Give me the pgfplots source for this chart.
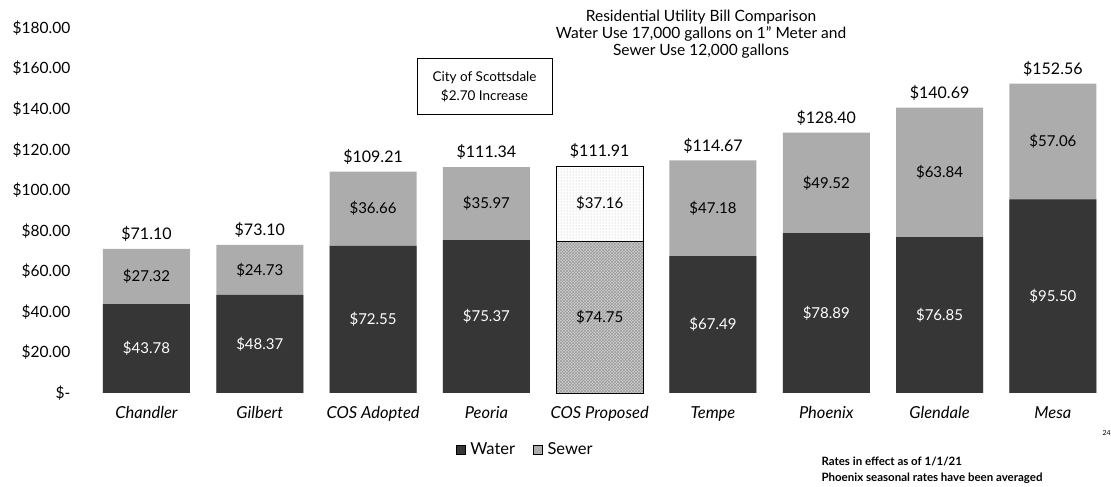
\documentclass[border=0pt]{standalone}
\usepackage{fontspec}
\setmainfont{Lato}
\usepackage{pgfplots}
\usepackage{pgfplotstable}
\pgfplotsset{compat=1.18}
\usetikzlibrary{patterns}
\definecolor{water}{RGB}{54,54,54}
\definecolor{sewer}{RGB}{172,172,172}
\pgfkeys{/pgf/number format/assume math mode=true}

\pgfplotstableread{
x water sewer total
0 43.78 27.32 71.10
1 48.37 24.73 73.10
2 72.55 36.66 109.21
3 75.37 35.97 111.34
4 74.75 37.16 111.91
5 67.49 47.18 114.67
6 78.89 49.52 128.40
7 76.85 63.84 140.69
8 95.50 57.06 152.56
}\data

\begin{document}
\begin{tikzpicture}[x=1pt,y=1pt]
\useasboundingbox (0,0) rectangle (1111,487);
\begin{axis}[
  at={(89.85pt,94pt)}, anchor=south west,
  scale only axis, width=1019.8pt, height=365pt,
  xmin=-0.5, xmax=8.5, ymin=0, ymax=180,
  axis line style={draw=none}, tick style={draw=none},
  clip=false,
  ytick={0,20,...,180},
  yticklabels={\$-\hspace{14pt},\$20.00,\$40.00,\$60.00,\$80.00,\$100.00,\$120.00,\$140.00,\$160.00,\$180.00},
  yticklabel style={font=\fontsize{15.5}{18}\selectfont, xshift=-16pt},
  xtick={0,...,8},
  xticklabels={Chandler,Gilbert,COS Adopted,Peoria,COS Proposed,Tempe,Phoenix,Glendale,Mesa},
  xticklabel style={font=\fontsize{16.5}{19}\selectfont\itshape, yshift=-10pt},
  legend columns=2,
  legend style={at={(rel axis cs:0.427,-0.153)}, anchor=center, draw=none, fill=none,
    font=\fontsize{16.5}{19}\selectfont, /tikz/every even column/.append style={column sep=16pt}},
  legend image code/.code={\fill[#1] (0pt,-5pt) rectangle (9pt,4pt);},
]
\addlegendimage{fill=water}\addlegendentry{\hspace{3pt}Water}
\addlegendimage{fill=sewer}\addlegendentry{\hspace{3pt}Sewer}

% totals (sewer on top of water)
\addplot[forget plot, ybar, bar width=87pt, bar shift=0pt, fill=sewer, draw=none,
  nodes near coords={\$\pgfmathprintnumber[fixed,fixed zerofill,precision=2]{\pgfplotspointmeta}},
  every node near coord/.append style={font=\fontsize{16}{18}\selectfont, black, yshift=4pt},
  point meta=explicit] table[x=x, y=total, meta=total] {\data};
\addplot[forget plot, ybar, bar width=87pt, bar shift=0pt, fill=water, draw=none]
  table[x=x, y=water] {\data};
% COS Proposed patterned bar
\addplot[forget plot, ybar, bar width=87pt, bar shift=0pt, fill=white, draw=black, line width=0.8pt,
  postaction={pattern=dots, pattern color=black!30}] coordinates {(4,111.91)};
\addplot[forget plot, ybar, bar width=87pt, bar shift=0pt, fill=black!18, draw=black, line width=0.8pt,
  postaction={pattern=crosshatch, pattern color=black!40}] coordinates {(4,74.75)};

% segment labels
\addplot[forget plot, draw=none, mark=none, skip coords between index={4}{5},
  nodes near coords={\$\pgfmathprintnumber[fixed,fixed zerofill,precision=2]{\pgfplotspointmeta}},
  every node near coord/.append style={font=\fontsize{15}{17}\selectfont, white, anchor=center},
  point meta=explicit] table[x=x, y expr=\thisrow{water}/2, meta=water] {\data};
\addplot[forget plot, draw=none, mark=none,
  nodes near coords={\$\pgfmathprintnumber[fixed,fixed zerofill,precision=2]{\pgfplotspointmeta}},
  every node near coord/.append style={font=\fontsize{15}{17}\selectfont, black, anchor=center},
  point meta=explicit] coordinates {(4,37.375) [74.75]};
\addplot[forget plot, draw=none, mark=none,
  nodes near coords={\$\pgfmathprintnumber[fixed,fixed zerofill,precision=2]{\pgfplotspointmeta}},
  every node near coord/.append style={font=\fontsize{15}{17}\selectfont, black, anchor=center},
  point meta=explicit] table[x=x, y expr=\thisrow{water}+\thisrow{sewer}/2, meta=sewer] {\data};
\end{axis}

% title
\node[align=center, font=\fontsize{15.5}{17}\selectfont] at (701,453)
  {Residential Utility Bill Comparison\\Water Use 17,000 gallons on 1" Meter and\\Sewer Use 12,000 gallons};
% callout box
\node[draw=black, line width=1pt, align=center, font=\fontsize{13.5}{19}\selectfont,
  minimum width=135pt, minimum height=56pt] at (484.5,400.5) {City of Scottsdale\\\$2.70 Increase};
% notes
\node[anchor=west, font=\fontsize{11.5}{13}\selectfont\bfseries] at (818,25) {Rates in effect as of 1/1/21};
\node[anchor=west, font=\fontsize{11.5}{13}\selectfont\bfseries] at (818,9) {Phoenix seasonal rates have been averaged};
\node[anchor=west, font=\fontsize{7}{8}\selectfont] at (1099,54) {24};
\end{tikzpicture}
\end{document}
